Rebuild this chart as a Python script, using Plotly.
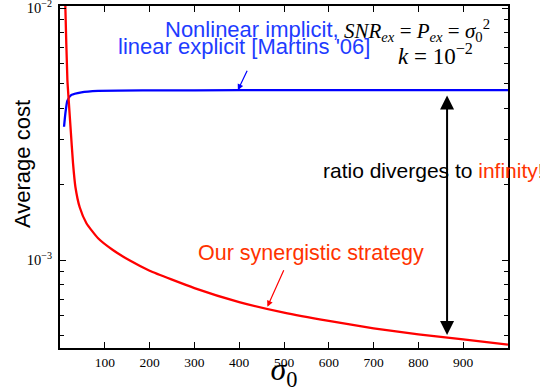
import plotly.graph_objects as go
import numpy as np

# ---- data ----
red_x = [11, 12, 16.5, 19.4, 23.9, 29, 34.4, 44, 59, 85, 118, 156, 200, 300, 400, 500, 600, 700, 800, 900, 1000]
red_y = [1.25e-2, 1.0e-2, 5.18e-3, 4.31e-3, 3.28e-3, 2.43e-3, 1.95e-3, 1.62e-3, 1.40e-3, 1.22e-3, 1.096e-3,
         9.95e-4, 9.07e-4, 7.74e-4, 6.81e-4, 6.18e-4, 5.73e-4, 5.36e-4, 5.07e-4, 4.84e-4, 4.62e-4]
blue_x = [9, 12, 16.5, 25.4, 47.8, 85, 200, 400, 600, 800, 1000]
blue_y = [3.38e-3, 3.82e-3, 4.29e-3, 4.52e-3, 4.63e-3, 4.69e-3, 4.71e-3, 4.72e-3, 4.72e-3, 4.72e-3, 4.72e-3]
x_ticks = [100, 200, 300, 400, 500, 600, 700, 800, 900]
y_ticks = [1e-3, 1e-2]
y_ticktext = ["10<sup>−3</sup>", "10<sup>−2</sup>"]
y_minor = [5e-4, 6e-4, 7e-4, 8e-4, 9e-4, 2e-3, 3e-3, 4e-3, 5e-3, 6e-3, 7e-3, 8e-3, 9e-3]

W, H = 540, 392
L, R, T, B = 60, 32, 6, 44
pw, ph = W - L - R, H - T - B

def px(xpix):
    return (xpix - L) / pw

def py(ypix):
    return (H - B - ypix) / ph

SANS = "Liberation Sans, Arial, Helvetica, sans-serif"
SERIF = "Liberation Serif, Times New Roman, serif"
BLUE_T = "#1e3cff"
RED_T = "#ff3300"
FS = 22
SP = "\u00a0"

fig = go.Figure()
fig.add_trace(go.Scatter(x=blue_x, y=blue_y, mode="lines",
                         line=dict(color="#0000ff", width=2.3, shape="spline", smoothing=0.5),
                         showlegend=False))
fig.add_trace(go.Scatter(x=red_x, y=red_y, mode="lines",
                         line=dict(color="#ff0000", width=2.3, shape="spline", smoothing=0.5),
                         showlegend=False))

eq1 = ("<i>SNR</i><sub><i>ex</i></sub>" + SP + "=" + SP + "<i>P</i><sub><i>ex</i></sub>" + SP + "=" + SP +
       "<i>σ</i><sub>0</sub><sup>2</sup>")
eq2 = "<i>k</i>" + SP + "=" + SP + "10<sup>−2</sup>"

ann = []
ann.append(dict(xref="paper", yref="paper", x=px(163), y=py(29), xanchor="left", yanchor="middle",
                text="Nonlinear implicit,", showarrow=False, font=dict(family=SANS, size=FS, color=BLUE_T)))
ann.append(dict(xref="paper", yref="paper", x=px(116), y=py(46), xanchor="left", yanchor="middle",
                text="linear explicit [Martins '06]", showarrow=False, font=dict(family=SANS, size=FS, color=BLUE_T)))
ann.append(dict(xref="paper", yref="paper", x=px(342), y=py(31), xanchor="left", yanchor="middle",
                text=eq1, showarrow=False, font=dict(family=SERIF, size=21, color="black")))
ann.append(dict(xref="paper", yref="paper", x=px(396), y=py(54), xanchor="left", yanchor="middle",
                text=eq2, showarrow=False, font=dict(family=SERIF, size=23, color="black")))
ann.append(dict(xref="paper", yref="paper", x=px(321), y=py(170), xanchor="left", yanchor="middle",
                text="ratio diverges to <span style='color:%s'>infinity</span>!" % RED_T,
                showarrow=False, font=dict(family=SANS, size=FS - 1, color="black")))
ann.append(dict(xref="paper", yref="paper", x=px(196), y=py(253), xanchor="left", yanchor="middle",
                text="Our synergistic strategy", showarrow=False, font=dict(family=SANS, size=FS - 0.5, color=RED_T)))
# y-axis title as rotated text
ann.append(dict(xref="paper", yref="paper", x=px(22), y=py(164), xanchor="center", yanchor="middle",
                text="Average cost", textangle=-90, showarrow=False,
                font=dict(family=SANS, size=22, color="black")))
# pointer arrows
ann.append(dict(xref="x", yref="y", x=397, y=np.log10(4.72e-3), ax=10, ay=-21, text="", showarrow=True,
                arrowhead=2, arrowsize=1, arrowwidth=1.2, arrowcolor="#0000ff"))
ann.append(dict(xref="x", yref="y", x=463, y=np.log10(6.53e-4), ax=17, ay=-38, text="", showarrow=True,
                arrowhead=2, arrowsize=1, arrowwidth=1.2, arrowcolor="#ff0000"))
# double-headed ratio arrow
ann.append(dict(xref="x", yref="y", x=864, y=np.log10(5.04e-4), axref="x", ayref="y",
                ax=864, ay=np.log10(4.56e-3), text="", showarrow=True, arrowside="end+start",
                arrowhead=2, startarrowhead=2, arrowsize=1.4, startarrowsize=1.4, arrowwidth=2,
                arrowcolor="black"))

fig.update_layout(
    width=W, height=H,
    margin=dict(l=L, r=R, t=T, b=B, autoexpand=False),
    paper_bgcolor="white", plot_bgcolor="white",
    annotations=ann,
    showlegend=False,
)
fig.update_xaxes(range=[0, 1000], tickvals=x_ticks, ticktext=[str(v) for v in x_ticks],
                 ticks="inside", ticklen=6, tickwidth=1, tickcolor="black",
                 showline=True, linecolor="black", linewidth=2, mirror="ticks",
                 showgrid=False, zeroline=False,
                 tickfont=dict(family=SERIF, size=13.5, color="black"), ticklabelstandoff=1,
                 title=dict(text="<i>σ</i><sub>0</sub>", font=dict(family=SERIF, size=32, color="black"),
                            standoff=5))
fig.update_yaxes(type="log", range=[-3.349, -1.992], tickvals=y_ticks, ticktext=y_ticktext,
                 ticks="inside", ticklen=6, tickwidth=1, tickcolor="black",
                 minor=dict(ticks="inside", ticklen=4, tickwidth=1, tickcolor="black", showgrid=False,
                            tickvals=y_minor),
                 showline=True, linecolor="black", linewidth=2, mirror="ticks",
                 showgrid=False, zeroline=False, ticklabeloverflow="allow",
                 tickfont=dict(family=SERIF, size=14.5, color="black"), ticklabelstandoff=3)

fig.write_html("out.html", config={"displayModeBar": False},
               post_script="document.body.style.margin='0';document.body.style.overflow='hidden';")
